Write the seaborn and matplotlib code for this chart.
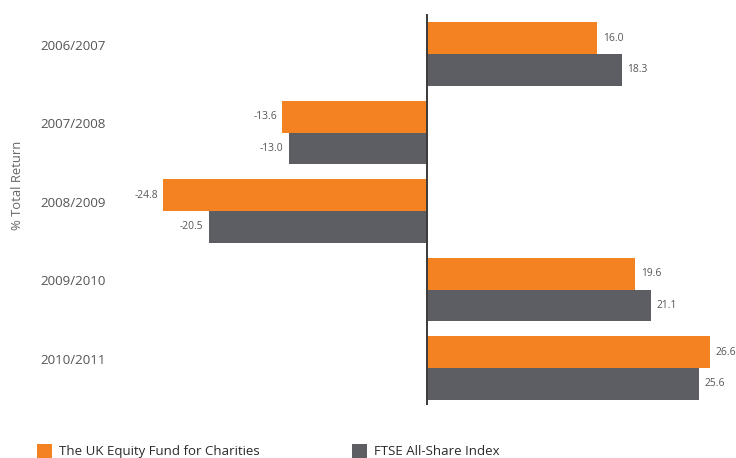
import matplotlib
matplotlib.use("Agg")
import matplotlib.pyplot as plt
import seaborn as sns
import pandas as pd

periods = ["2006/2007", "2007/2008", "2008/2009", "2009/2010", "2010/2011"]
fund_returns = [16.0, -13.6, -24.8, 19.6, 26.6]
index_returns = [18.3, -13.0, -20.5, 21.1, 25.6]
series_names = ["The UK Equity Fund for Charities", "FTSE All-Share Index"]
series_colors = ["#F58220", "#5D5E63"]

df = pd.DataFrame({
    "period": periods * 2,
    "value": fund_returns + index_returns,
    "series": [series_names[0]] * len(periods) + [series_names[1]] * len(periods),
})

sns.set_theme(style="white")
plt.rcParams["font.family"] = ["Open Sans", "DejaVu Sans"]

fig = plt.figure(figsize=(7.36, 4.58), dpi=100)
W, H = 736, 458
left_px, right_px, top_px, bot_px = 110, 730, 14, 405
ax = fig.add_axes([left_px / W, 1 - bot_px / H, (right_px - left_px) / W, (bot_px - top_px) / H])

sns.barplot(data=df, y="period", x="value", hue="series", orient="h",
            palette=series_colors, width=0.815, order=periods,
            hue_order=series_names, saturation=1, linewidth=0,
            ax=ax, legend=True)

handles, labels = ax.get_legend_handles_labels()
ax.get_legend().remove()

px_per_unit = 10.63
ax.set_xlim(-(427 - left_px) / px_per_unit, (right_px - 427) / px_per_unit)
ax.set_ylim((bot_px - 54) / 78.5, -(54 - top_px) / 78.5)

for cont in ax.containers:
    ax.bar_label(cont, fmt="%.1f", padding=4, fontsize=7.4, color="#555555")

ax.axvline(0, color="#3a3a3a", lw=1.4)

for s in ax.spines.values():
    s.set_visible(False)
ax.set_xticks([])
ax.set_yticks([])
ax.set_xlabel("")
ax.set_ylabel("")

# period labels sit in the left margin, slightly above each group's centre
label_x = ax.get_xlim()[0] - (left_px - 40) / px_per_unit
for i, p in enumerate(periods):
    ax.text(label_x, i - 0.1, p, ha="left", va="center", fontsize=9.6,
            color="#555555", clip_on=False)

fig.text(18 / W, 1 - 185 / H, "% Total Return", rotation=90, ha="center", va="center",
         fontsize=9.4, color="#666666")

for h, lab, x0 in zip(handles, labels, [37, 352]):
    h.set_linewidth(0)
    fig.legend([h], [lab], loc="center left", bbox_to_anchor=(x0 / W, 1 - 451 / H),
               frameon=False, borderpad=0, borderaxespad=0, handlelength=1.15,
               handleheight=1.3, handletextpad=0.55,
               prop={"size": 9.5, "weight": "medium"}, labelcolor="#2a2a2a")

fig.savefig("out.png", dpi=100)
